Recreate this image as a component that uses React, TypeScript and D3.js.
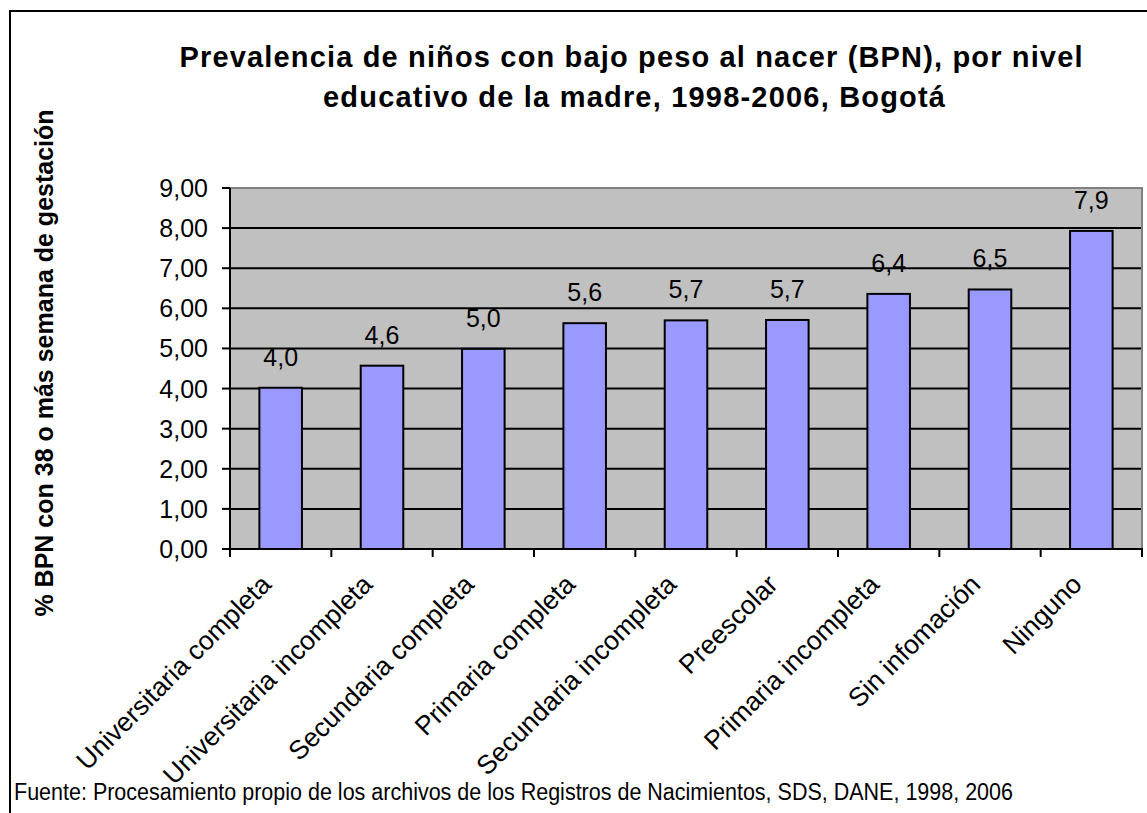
import React from "react";
import * as d3 from "d3";

const categories: string[] = [
  "Universitaria completa",
  "Universitaria incompleta",
  "Secundaria completa",
  "Primaria completa",
  "Secundaria incompleta",
  "Preescolar",
  "Primaria incompleta",
  "Sin infomación",
  "Ninguno",
];
const values: number[] = [4.02, 4.57, 4.99, 5.63, 5.7, 5.71, 6.36, 6.47, 7.93];
const yTicks: number[] = [0, 1, 2, 3, 4, 5, 6, 7, 8, 9];
const titleLines: string[] = [
  "Prevalencia de niños con bajo peso al nacer (BPN), por nivel",
  "educativo de la madre, 1998-2006, Bogotá",
];
const yTitle = "% BPN con 38 o más semana de gestación";
const footer =
  "Fuente: Procesamiento propio de los archivos de los Registros de Nacimientos, SDS, DANE, 1998, 2006";

const W = 1147;
const H = 813;
const plot = { left: 230, right: 1142, top: 188, bottom: 549 };
const FONT = "Arial, 'Liberation Sans', Helvetica, sans-serif";

export default function App() {
  const x = d3
    .scaleBand<string>()
    .domain(categories)
    .range([plot.left, plot.right])
    .paddingInner(0)
    .paddingOuter(0);
  const y = d3.scaleLinear().domain([0, 9]).range([plot.bottom, plot.top]);
  const bw = x.bandwidth();
  const barW = bw * 0.42;
  const fmtTick = (v: number) => d3.format(".2f")(v).replace(".", ",");
  const fmtLabel = (v: number) => d3.format(".1f")(v).replace(".", ",");
  const boundaries = categories.map((c) => x(c) as number).concat([plot.right]);

  return (
    <svg
      width={W}
      height={H}
      style={{ position: "absolute", left: 0, top: 0, background: "#fff" }}
      fontFamily={FONT}
    >
      <rect x={0} y={0} width={W} height={H} fill="#fff" />
      {/* outer frame */}
      <rect x={10} y={11} width={W + 20} height={H + 20} fill="none" stroke="#000" strokeWidth={2} />

      {/* title */}
      {titleLines.map((t, i) => (
        <text
          key={i}
          x={i === 0 ? 631 : 634}
          y={67 + i * 40}
          textAnchor="middle"
          fontWeight="bold"
          fontSize={29}
          textLength={i === 0 ? 903 : 622}
          lengthAdjust="spacing"
          fill="#000"
        >
          {t}
        </text>
      ))}

      {/* plot background */}
      <rect
        x={plot.left}
        y={plot.top}
        width={plot.right - plot.left}
        height={plot.bottom - plot.top}
        fill="#C0C0C0"
      />
      {/* gridlines */}
      {yTicks
        .filter((t) => t > 0 && t < 9)
        .map((t) => (
          <line
            key={t}
            x1={plot.left}
            x2={plot.right}
            y1={y(t)}
            y2={y(t)}
            stroke="#000"
            strokeWidth={2}
          />
        ))}
      {/* top/right border */}
      <polyline
        points={`${plot.left},${plot.top} ${plot.right},${plot.top} ${plot.right},${plot.bottom}`}
        fill="none"
        stroke="#808080"
        strokeWidth={2}
      />

      {/* bars */}
      {categories.map((c, i) => {
        const cx = (x(c) as number) + bw / 2;
        return (
          <g key={c}>
            <rect
              x={cx - barW / 2}
              y={y(values[i])}
              width={barW}
              height={plot.bottom - y(values[i])}
              fill="#9999FF"
              stroke="#000"
              strokeWidth={2}
            />
            <text
              x={cx}
              y={y(values[i]) - 22}
              textAnchor="middle"
              fontSize={25}
              fill="#000"
            >
              {fmtLabel(values[i])}
            </text>
          </g>
        );
      })}

      {/* axes */}
      <line x1={plot.left} x2={plot.left} y1={plot.top} y2={plot.bottom} stroke="#000" strokeWidth={2} />
      <line x1={plot.left - 1} x2={plot.right + 1} y1={plot.bottom} y2={plot.bottom} stroke="#000" strokeWidth={2} />
      {yTicks.map((t) => (
        <g key={t}>
          <line x1={plot.left - 8} x2={plot.left} y1={y(t)} y2={y(t)} stroke="#000" strokeWidth={2} />
          <text x={208} y={y(t) + 9} textAnchor="end" fontSize={25} fill="#000">
            {fmtTick(t)}
          </text>
        </g>
      ))}
      {boundaries.map((bx, i) => (
        <line key={i} x1={bx} x2={bx} y1={plot.bottom} y2={plot.bottom + 8} stroke="#000" strokeWidth={2} />
      ))}
      {categories.map((c) => {
        const cx = (x(c) as number) + bw / 2 - 8;
        const cy = plot.bottom + 37;
        return (
          <text
            key={c}
            x={cx}
            y={cy}
            textAnchor="end"
            fontSize={26.5}
            fill="#000"
            transform={`rotate(-45 ${cx} ${cy})`}
          >
            {c}
          </text>
        );
      })}

      {/* y title */}
      <text
        transform={`translate(53 ${363}) rotate(-90)`}
        textAnchor="middle"
        fontWeight="bold"
        fontSize={25}
        fill="#000"
      >
        {yTitle}
      </text>

      {/* footer */}
      <text x={14} y={800} fontSize={23} textLength={999} lengthAdjust="spacingAndGlyphs" fill="#000">
        {footer}
      </text>
    </svg>
  );
}
